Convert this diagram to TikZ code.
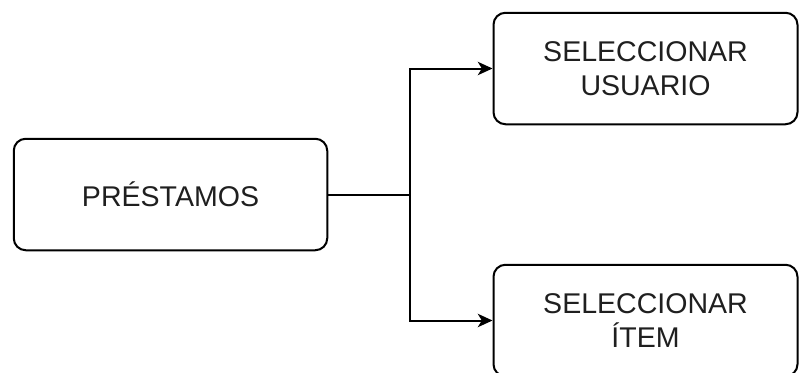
\documentclass[tikz,border=0pt]{standalone}
\usepackage{fontspec}
\setmainfont{Liberation Sans}
\usetikzlibrary{arrows.meta}
\begin{document}
\begin{tikzpicture}[x=0.75pt,y=-0.75pt,
  box/.style={draw=black, line width=1.5pt, rounded corners=9pt, fill=white,
    inner sep=0pt, align=center, text=black!88,
    font=\fontsize{21.4pt}{25.8pt}\selectfont},
  link/.style={draw=black, line width=1.5pt,
    -{Stealth[length=11pt,width=10pt,inset=3pt]}}]
  \useasboundingbox (0,0) rectangle (799,372);
  \clip (0,0) rectangle (799,372);

  % boxes
  \node[box, minimum width=313.5*0.75pt, minimum height=111.5*0.75pt]
    (pre) at (170.5,194.5) {PRÉSTAMOS};
  \node[box, minimum width=304*0.75pt, minimum height=111.5*0.75pt]
    (usr) at (645.5,68.5) {SELECCIONAR\\USUARIO};
  \node[box, minimum width=304*0.75pt, minimum height=111.5*0.75pt]
    (itm) at (645.5,320.5) {SELECCIONAR\\ÍTEM};

  % branching connectors
  \coordinate (j) at (410,194.5);
  \draw[line width=1.5pt] (pre.east) -- (j);
  \draw[link] (j) |- (usr.west);
  \draw[link] (j) |- (itm.west);
\end{tikzpicture}
\end{document}
